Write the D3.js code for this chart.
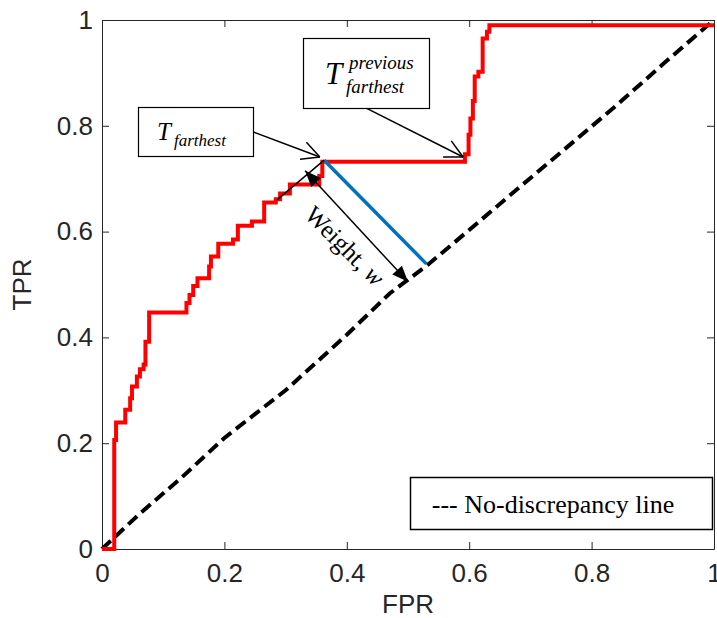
<!DOCTYPE html>
<html>
<head>
<meta charset="utf-8">
<script src="https://cdn.jsdelivr.net/npm/d3@7"></script>
<style>
  body { margin: 0; background: #fff; }
  svg { display: block; }
  .tick text { font-family: "Liberation Sans", Arial, sans-serif; font-size: 26px; fill: #262626; }
  .serif { font-family: "Liberation Serif", "Times New Roman", serif; fill: #000; }
</style>
</head>
<body>
<div id="chart"></div>
<script>
// ROC curve corners (step after): horizontal move to fpr, then up to tpr
const rocFpr = [0, 0.02, 0.023, 0.038, 0.046, 0.049, 0.057, 0.062, 0.068, 0.071, 0.077,
  0.138, 0.143, 0.149, 0.156, 0.175, 0.178, 0.19, 0.214, 0.222, 0.245, 0.265, 0.284,
  0.291, 0.307, 0.355, 0.36, 0.593, 0.599, 0.602, 0.606, 0.609, 0.615, 0.622, 0.629, 0.633, 1];
const rocTpr = [0, 0.206, 0.239, 0.263, 0.285, 0.307, 0.326, 0.34, 0.349, 0.392, 0.447,
  0.465, 0.48, 0.497, 0.512, 0.534, 0.553, 0.577, 0.585, 0.611, 0.619, 0.655, 0.661,
  0.672, 0.689, 0.705, 0.732, 0.746, 0.783, 0.814, 0.847, 0.893, 0.902, 0.965, 0.978, 0.99, 0.99];

// no-discrepancy line
const diagFpr = [0, 0.06, 0.13, 0.2, 0.3, 0.4, 0.47, 0.53, 0.6, 0.67, 0.75, 0.84, 0.92, 1];
const diagTpr = [0, 0.065, 0.135, 0.21, 0.3, 0.405, 0.483, 0.535, 0.603, 0.672, 0.75, 0.838, 0.92, 1];

// farthest-point weight segment
const weightFpr = [0.363, 0.53];
const weightTpr = [0.735, 0.539];

const tickValues = [0, 0.2, 0.4, 0.6, 0.8, 1];
const tickLabels = ["0", "0.2", "0.4", "0.6", "0.8", "1"];

const W = 717, H = 618;
const axisColor = "#262626";

const svg = d3.select("#chart")
  .append("svg")
  .attr("width", W)
  .attr("height", H);

const x = d3.scaleLinear().domain([0, 1]).range([102, 714]);
const y = d3.scaleLinear().domain([0, 1]).range([549, 20]);

function styleAxis(g) {
  g.select(".domain").attr("stroke", axisColor).attr("stroke-width", 1);
  g.selectAll(".tick line").attr("stroke", axisColor);
}

svg.append("g")
  .attr("transform", `translate(0,${y(0)})`)
  .call(d3.axisBottom(x).tickValues(tickValues).tickFormat((d, i) => tickLabels[i])
    .tickSizeInner(-7).tickSizeOuter(0).tickPadding(15))
  .call(styleAxis);

svg.append("g")
  .attr("transform", `translate(${x(0)},0)`)
  .call(d3.axisLeft(y).tickValues(tickValues).tickFormat((d, i) => tickLabels[i])
    .tickSizeInner(-7).tickSizeOuter(0).tickPadding(9))
  .call(styleAxis);

svg.append("g")
  .attr("transform", `translate(0,${y(1)})`)
  .call(d3.axisTop(x).tickValues(tickValues).tickFormat("").tickSizeInner(-7).tickSizeOuter(0))
  .call(styleAxis);

svg.append("g")
  .attr("transform", `translate(${x(1)},0)`)
  .call(d3.axisRight(y).tickValues(tickValues).tickFormat("").tickSizeInner(-7).tickSizeOuter(0))
  .call(styleAxis);

svg.selectAll(".domain").attr("fill", "none");

// axis labels
svg.append("text")
  .attr("x", (x(0) + x(1)) / 2)
  .attr("y", 613)
  .attr("text-anchor", "middle")
  .style("font-family", "'Liberation Sans', Arial, sans-serif")
  .style("font-size", "26px")
  .attr("fill", axisColor)
  .text("FPR");

svg.append("text")
  .attr("transform", `translate(31,${(y(0) + y(1)) / 2}) rotate(-90)`)
  .attr("text-anchor", "middle")
  .style("font-family", "'Liberation Sans', Arial, sans-serif")
  .style("font-size", "26px")
  .attr("fill", axisColor)
  .text("TPR");

// no-discrepancy dashed line
const diagLine = d3.line()
  .x((d, i) => x(diagFpr[i]))
  .y((d, i) => y(diagTpr[i]));

svg.append("path")
  .datum(diagFpr)
  .attr("fill", "none")
  .attr("stroke", "#000")
  .attr("stroke-width", 4)
  .attr("stroke-dasharray", "12,6")
  .attr("d", diagLine);

// ROC curve
const rocLine = d3.line()
  .x((d, i) => x(rocFpr[i]))
  .y((d, i) => y(rocTpr[i]))
  .curve(d3.curveStepAfter);

svg.append("path")
  .datum(rocFpr)
  .attr("fill", "none")
  .attr("stroke", "#ff0000")
  .attr("stroke-width", 4)
  .attr("stroke-linejoin", "miter")
  .attr("d", rocLine);

// weight segment
svg.append("line")
  .attr("x1", x(weightFpr[0])).attr("y1", y(weightTpr[0]))
  .attr("x2", x(weightFpr[1])).attr("y2", y(weightTpr[1]))
  .attr("stroke", "#0072BD")
  .attr("stroke-width", 3.5);

// ---- annotations ----
const ann = svg.append("g");

function openArrow(p0, p1) {
  const x0 = x(p0[0]), y0 = y(p0[1]), x1 = x(p1[0]), y1 = y(p1[1]);
  const a = Math.atan2(y1 - y0, x1 - x0);
  const len = 20, spread = 27 * Math.PI / 180;
  ann.append("line")
    .attr("x1", x0).attr("y1", y0).attr("x2", x1).attr("y2", y1)
    .attr("stroke", "#000").attr("stroke-width", 1.5);
  [-spread, spread].forEach(s => {
    ann.append("line")
      .attr("x1", x1).attr("y1", y1)
      .attr("x2", x1 - len * Math.cos(a + s))
      .attr("y2", y1 - len * Math.sin(a + s))
      .attr("stroke", "#000").attr("stroke-width", 1.5);
  });
}

function filledHead(xt, yt, a) {
  const len = 16, half = 6.5;
  const bx = xt - len * Math.cos(a), by = yt - len * Math.sin(a);
  const px = -Math.sin(a) * half, py = Math.cos(a) * half;
  ann.append("path")
    .attr("d", `M${xt},${yt}L${bx + px},${by + py}L${bx - px},${by - py}Z`)
    .attr("fill", "#000");
}

openArrow([0.248, 0.788], [0.356, 0.741]);
openArrow([0.431, 0.834], [0.590, 0.741]);

// witness line from the farthest point
ann.append("line")
  .attr("x1", x(0.363)).attr("y1", y(0.735))
  .attr("x2", x(0.286)).attr("y2", y(0.66))
  .attr("stroke", "#000").attr("stroke-width", 1.5);

// double arrow "Weight, w"
const dA = [0.332, 0.715], dB = [0.5, 0.505];
{
  const xa = x(dA[0]), ya = y(dA[1]), xb = x(dB[0]), yb = y(dB[1]);
  const a = Math.atan2(yb - ya, xb - xa);
  ann.append("line")
    .attr("x1", xa).attr("y1", ya).attr("x2", xb).attr("y2", yb)
    .attr("stroke", "#000").attr("stroke-width", 1.5);
  filledHead(xb, yb, a);
  filledHead(xa, ya, a + Math.PI);
}

const wText = ann.append("text")
  .attr("class", "serif")
  .attr("transform", "translate(339,252) rotate(45)")
  .attr("text-anchor", "middle")
  .style("font-size", "25px");
wText.append("tspan").text("Weight, ");
wText.append("tspan").style("font-style", "italic").text("w");

// T_farthest box
ann.append("rect")
  .attr("x", 138.5).attr("y", 107.5).attr("width", 115).attr("height", 49)
  .attr("fill", "#fff").attr("stroke", "#000").attr("stroke-width", 1.2);
const t1 = ann.append("text").attr("class", "serif").style("font-style", "italic");
t1.append("tspan").attr("x", 157).attr("y", 140).style("font-size", "25px").text("T");
t1.append("tspan").attr("x", 174).attr("y", 146).style("font-size", "17px").text("farthest");

// T_farthest^previous box
ann.append("rect")
  .attr("x", 303.5).attr("y", 38.5).attr("width", 126).attr("height", 70)
  .attr("fill", "#fff").attr("stroke", "#000").attr("stroke-width", 1.2);
const t2 = ann.append("text").attr("class", "serif").style("font-style", "italic");
t2.append("tspan").attr("x", 325).attr("y", 84).style("font-size", "31px").text("T");
t2.append("tspan").attr("x", 349).attr("y", 69).style("font-size", "19px").text("previous");
t2.append("tspan").attr("x", 346).attr("y", 93).style("font-size", "19px").text("farthest");

// legend box
ann.append("rect")
  .attr("x", 410.5).attr("y", 477.5).attr("width", 302).attr("height", 52)
  .attr("fill", "#fff").attr("stroke", "#000").attr("stroke-width", 1.5);
ann.append("text")
  .attr("class", "serif")
  .attr("x", 553).attr("y", 513)
  .attr("text-anchor", "middle")
  .style("font-size", "26px")
  .text("--- No-discrepancy line");
</script>
</body>
</html>
